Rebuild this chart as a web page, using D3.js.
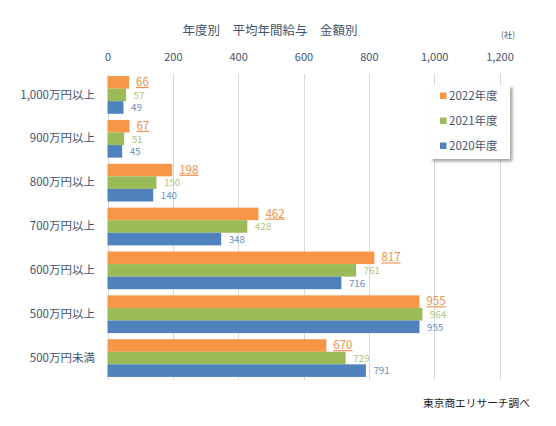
<!DOCTYPE html>
<html><head><meta charset="utf-8">
<script src="https://cdn.jsdelivr.net/npm/d3@7"></script>
<style>
html,body{margin:0;padding:0;background:#fff;}
svg{display:block;font-family:"Noto Sans CJK JP","Noto Sans",sans-serif;}
</style></head>
<body><svg id="c" width="556" height="426"></svg>
<script>
const categories = ["1,000万円以上","900万円以上","800万円以上","700万円以上","600万円以上","500万円以上","500万円未満"];
const seriesNames = ["2022年度","2021年度","2020年度"];
const values2022 = [66, 67, 198, 462, 817, 955, 670];
const values2021 = [57, 51, 150, 428, 761, 964, 729];
const values2020 = [49, 45, 140, 348, 716, 955, 791];
const xTicks = [0, 200, 400, 600, 800, 1000, 1200];
const title = "年度別　平均年間給与　金額別";
const unitLabel = "(社)";
const sourceLabel = "東京商エリサーチ調べ";

const colors = ["#F79646", "#9BBB59", "#4F81BD"];
const labelColors = ["#EE9150", "#B0C57A", "#6D8EC2"];
const series = [values2022, values2021, values2020];

const svg = d3.select("#c");
const defs = svg.append("defs");
const f = defs.append("filter").attr("id","sh").attr("x","-20%").attr("y","-20%").attr("width","150%").attr("height","150%");
f.append("feDropShadow").attr("dx",2.5).attr("dy",2.5).attr("stdDeviation",1.8).attr("flood-color","#000").attr("flood-opacity",0.35);

const x = d3.scaleLinear().domain([0, 1200]).range([107.5, 499.5]);
const y = d3.scaleBand().domain(categories).range([73, 380]).paddingInner(0.14).paddingOuter(0.07);
const ys = d3.scaleBand().domain(seriesNames).range([0, y.bandwidth()]);

// title
svg.append("text").attr("x", 270).attr("y", 35).attr("text-anchor","middle")
  .attr("font-size", 12.5).attr("fill","#44546A").text(title);
svg.append("text").attr("x", 508).attr("y", 38).attr("text-anchor","middle")
  .attr("font-size", 8.5).attr("fill","#595959").text(unitLabel);

// grid
const gGrid = svg.append("g");
gGrid.selectAll("line").data(xTicks).join("line")
  .attr("x1", d => Math.round(x(d)) + 0.5).attr("x2", d => Math.round(x(d)) + 0.5)
  .attr("y1", 74).attr("y2", 380)
  .attr("stroke", "#D9D9D9").attr("stroke-width", 1);

// top axis
const axis = d3.axisTop(x).tickValues(xTicks).tickSize(0).tickPadding(0).tickFormat(d3.format(","));
const gA = svg.append("g").attr("transform","translate(0,61)").call(axis);
gA.select(".domain").remove();
gA.selectAll("text").attr("font-size", 11).attr("fill","#44546A")
  .attr("font-family","\"Noto Sans CJK JP\",sans-serif");

// category labels
const yAxis = d3.axisLeft(y).tickSize(0).tickPadding(0);
const gY = svg.append("g").attr("transform","translate(95,0)").call(yAxis);
gY.select(".domain").remove();
gY.selectAll("text").attr("font-size", 11.5).attr("fill","#44546A")
  .attr("font-family","\"Noto Sans CJK JP\",sans-serif");

// bars
series.forEach((vals, si) => {
  const g = svg.append("g");
  g.selectAll("rect").data(vals).join("rect")
    .attr("x", x(0))
    .attr("y", (d, i) => y(categories[i]) + ys(seriesNames[si]))
    .attr("width", d => x(d) - x(0))
    .attr("height", ys.bandwidth())
    .attr("fill", colors[si]);
  g.selectAll("text").data(vals).join("text")
    .attr("x", d => x(d) + (si === 0 ? 7 : 7.5))
    .attr("y", (d, i) => y(categories[i]) + ys(seriesNames[si]) + ys.bandwidth() / 2 + (si === 0 ? -0.5 : 0.3))
    .attr("dy", "0.36em")
    .attr("font-size", si === 0 ? 11.5 : 9.8)
    .attr("fill", labelColors[si])
    .attr("text-decoration", si === 0 ? "underline" : null)
    .text(d => d);
});

// legend
const lg = svg.append("g");
lg.append("rect").attr("x", 430).attr("y", 85).attr("width", 80).attr("height", 74)
  .attr("fill", "#fff").attr("filter", "url(#sh)");
seriesNames.forEach((n, i) => {
  const cy = 96 + i * 25;
  lg.append("rect").attr("x", 440).attr("y", cy - 3.5).attr("width", 6.5).attr("height", 6.5).attr("fill", colors[i]);
  lg.append("text").attr("x", 449).attr("y", cy).attr("dy", "0.36em")
    .attr("font-size", 11.5).attr("fill", "#44546A").text(n);
});

// source
svg.append("text").attr("x", 423).attr("y", 403).attr("dy","0.36em")
  .attr("font-size", 10.7).attr("fill", "#222").text(sourceLabel);
</script></body></html>
